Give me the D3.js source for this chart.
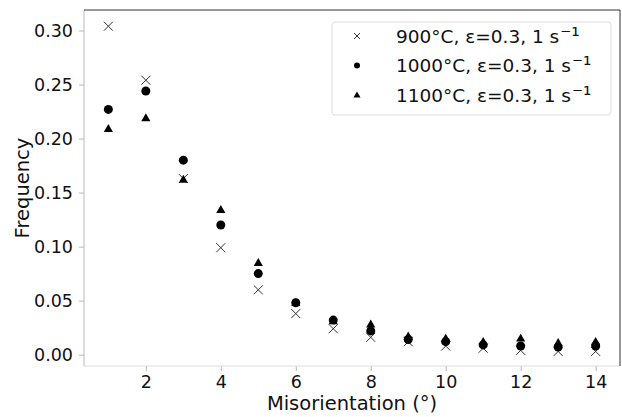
<!DOCTYPE html>
<html>
<head>
<meta charset="utf-8">
<script src="https://cdn.jsdelivr.net/npm/d3@7"></script>
<style>
  html, body { margin: 0; padding: 0; background: #fff; }
  svg { display: block; font-family: "DejaVu Sans", sans-serif; }
</style>
</head>
<body>
<svg id="chart" width="622" height="417"></svg>
<script>
// Misorientation angle bins (degrees)
const angles = [1, 2, 3, 4, 5, 6, 7, 8, 9, 10, 11, 12, 13, 14];

// Frequency per bin for each deformation condition
const freq900  = [0.304, 0.254, 0.163, 0.099, 0.060, 0.038, 0.024, 0.016, 0.012, 0.008, 0.006, 0.004, 0.003, 0.003];
const freq1000 = [0.227, 0.244, 0.180, 0.120, 0.075, 0.048, 0.032, 0.022, 0.014, 0.012, 0.009, 0.008, 0.007, 0.008];
const freq1100 = [0.209, 0.219, 0.162, 0.134, 0.085, 0.048, 0.031, 0.028, 0.017, 0.015, 0.012, 0.015, 0.011, 0.012];

const seriesTemps = ["900°C", "1000°C", "1100°C"];
const seriesShapes = ["cross", "circle", "triangle"];

const xTicks = [2, 4, 6, 8, 10, 12, 14];
const yTicks = [0.00, 0.05, 0.10, 0.15, 0.20, 0.25, 0.30];

const series = [freq900, freq1000, freq1100].map((vals, i) => ({
  temp: seriesTemps[i],
  shape: seriesShapes[i],
  points: vals.map((v, j) => ({ x: angles[j], y: v }))
}));

const margin = { left: 84, right: 2, top: 10, bottom: 51 };
const W = 622, H = 417;
const svg = d3.select("#chart");

const x = d3.scaleLinear().domain([0.35, 14.65]).range([margin.left, W - margin.right]);
const y = d3.scaleLinear().domain([-0.0105, 0.319]).range([H - margin.bottom, margin.top]);

const axisGrey = "#b8b8b8";

// Axes
const gx = svg.append("g")
  .attr("transform", `translate(0,${H - margin.bottom})`)
  .call(d3.axisBottom(x).tickValues(xTicks).tickFormat(d3.format("d")).tickSize(5).tickPadding(5));
const gy = svg.append("g")
  .attr("transform", `translate(${margin.left},0)`)
  .call(d3.axisLeft(y).tickValues(yTicks).tickFormat(d3.format(".2f")).tickSize(5).tickPadding(6));

[gx, gy].forEach(g => {
  g.select(".domain").remove();
  g.selectAll(".tick line").attr("stroke", axisGrey);
  g.selectAll(".tick text").attr("fill", "#111").style("font-size", "17.5px").style("font-family", "DejaVu Sans");
});

// Frame: light left/bottom, dark top/right
svg.append("line").attr("x1", margin.left).attr("x2", margin.left)
  .attr("y1", margin.top).attr("y2", H - margin.bottom).attr("stroke", axisGrey).attr("stroke-width", 1);
svg.append("line").attr("x1", margin.left).attr("x2", W - margin.right)
  .attr("y1", H - margin.bottom).attr("y2", H - margin.bottom).attr("stroke", "#ddd").attr("stroke-width", 1);
svg.append("line").attr("x1", margin.left).attr("x2", W - margin.right)
  .attr("y1", margin.top).attr("y2", margin.top).attr("stroke", "#333").attr("stroke-width", 1);
svg.append("line").attr("x1", W - margin.right).attr("x2", W - margin.right)
  .attr("y1", margin.top).attr("y2", H - margin.bottom).attr("stroke", "#333").attr("stroke-width", 1);

// Axis titles
svg.append("text")
  .attr("x", (margin.left + W - margin.right) / 2).attr("y", 410)
  .attr("text-anchor", "middle").style("font-size", "19.5px").attr("fill", "#111")
  .text("Misorientation (°)");
svg.append("text")
  .attr("transform", `translate(29,${(margin.top + H - margin.bottom) / 2}) rotate(-90)`)
  .attr("text-anchor", "middle").style("font-size", "19.5px").attr("fill", "#111")
  .text("Frequency");

// Marker drawing
function drawMarker(sel, shape, size) {
  if (shape === "cross") {
    const r = size * 0.5;
    sel.append("path")
      .attr("d", `M${-r},${-r}L${r},${r}M${-r},${r}L${r},${-r}`)
      .attr("stroke", "#333").attr("stroke-width", 1).attr("fill", "none");
  } else if (shape === "circle") {
    sel.append("circle").attr("r", size * 0.5).attr("fill", "#000");
  } else {
    const sym = d3.symbol().type(d3.symbolTriangle).size(size * size * 0.45);
    sel.append("path").attr("d", sym()).attr("fill", "#000").attr("transform", "translate(0,0.5)");
  }
}

const plot = svg.append("g");
series.forEach(s => {
  plot.selectAll(null).data(s.points).enter().append("g")
    .attr("transform", d => `translate(${x(d.x)},${y(d.y)})`)
    .each(function () { drawMarker(d3.select(this), s.shape, 9); });
});

// Legend
const lg = svg.append("g").attr("transform", "translate(332,22)");
lg.append("rect").attr("width", 279).attr("height", 93).attr("rx", 3)
  .attr("fill", "#fff").attr("fill-opacity", 0.8).attr("stroke", "#ddd");
series.forEach((s, i) => {
  const row = lg.append("g").attr("transform", `translate(25,${14 + i * 29.5})`);
  drawMarker(row.append("g"), s.shape, s.shape === "triangle" ? 7 : 6);
  const t = row.append("text").attr("x", 39).attr("y", 0).attr("dy", "0.36em")
    .style("font-size", "18.5px").attr("fill", "#111");
  t.append("tspan").text(`${s.temp}, ε=0.3, 1 s`);
  t.append("tspan").attr("dx", 1).style("font-size", "21px").text("⁻¹");
});
</script>
</body>
</html>
